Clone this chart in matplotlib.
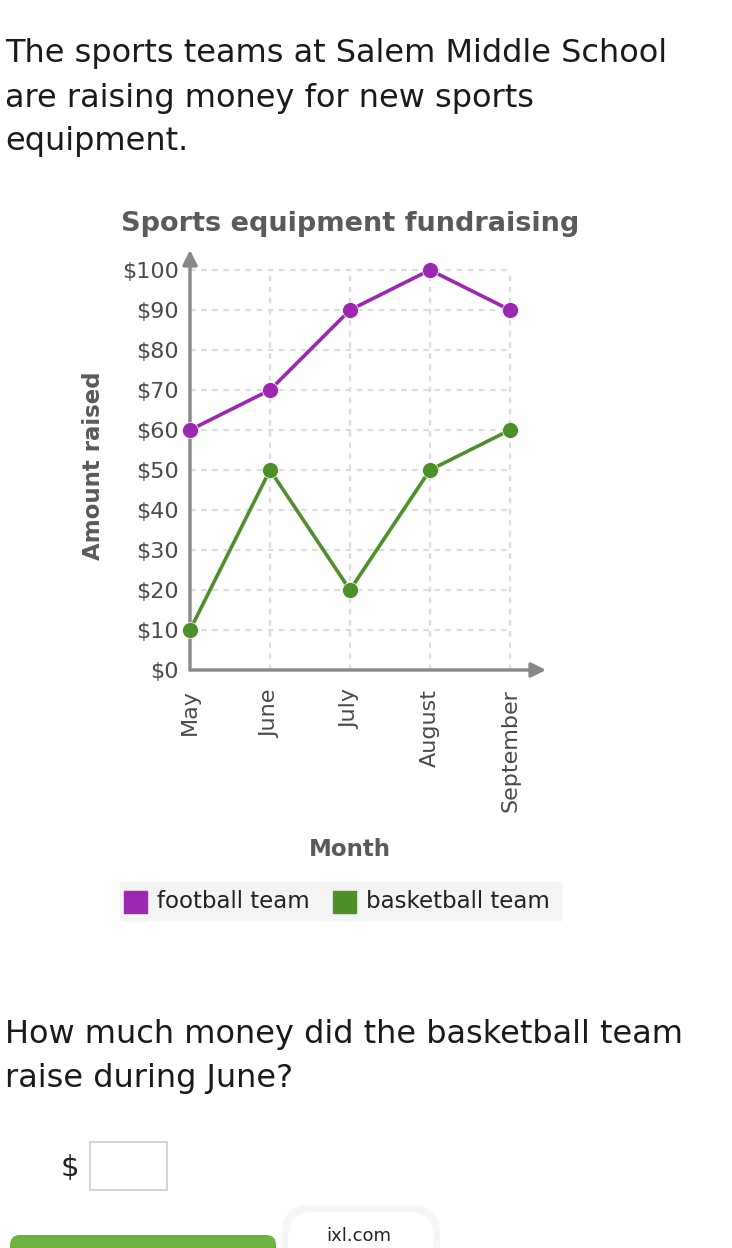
import matplotlib
matplotlib.use("Agg")
import matplotlib.pyplot as plt
from matplotlib.patches import Rectangle, FancyBboxPatch

# donnees du graphique
months = ["May", "June", "July", "August", "September"]
football = [60, 70, 90, 100, 90]
basketball = [10, 50, 20, 50, 60]
y_ticks = [0, 10, 20, 30, 40, 50, 60, 70, 80, 90, 100]
y_labels = ["$" + str(v) for v in y_ticks]
series_names = ["football team", "basketball team"]
series_colors = ["#9c27b0", "#4e8f2a"]

W, H = 732, 1248
fig = plt.figure(figsize=(W / 100, H / 100), dpi=100)
fig.patch.set_facecolor("white")

# calque en pixels pour le texte autour du graphique
bg = fig.add_axes([0, 0, 1, 1])
bg.set_xlim(0, W)
bg.set_ylim(H, 0)
bg.axis("off")

# axes du graphique
x0, x1, y0, y1 = 190, 546, 670, 250
ax = fig.add_axes([x0 / W, 1 - y0 / H, (x1 - x0) / W, (y0 - y1) / H])
ax.set_xlim(0, 4.45)
ax.set_ylim(0, 105)
for s in ax.spines.values():
    s.set_visible(False)
ax.patch.set_alpha(0)

xs = list(range(len(months)))
grid_kw = dict(color="#dddddd", lw=1.6, linestyles=(0, (2.5, 2.5)), zorder=1)
ax.hlines(y_ticks[1:], 0, xs[-1], **grid_kw)
ax.vlines(xs[1:], 0, y_ticks[-1], **grid_kw)

# fleches des axes
arrow = dict(arrowstyle="-|>", color="#888888", lw=2.4, mutation_scale=22, shrinkA=0, shrinkB=0)
ax.annotate("", xy=(0, 1), xytext=(0, 0), xycoords="axes fraction", arrowprops=arrow, zorder=2)
ax.annotate("", xy=(1, 0), xytext=(0, 0), xycoords="axes fraction", arrowprops=arrow, zorder=2)

for vals, col in zip([football, basketball], series_colors):
    ax.plot(xs, vals, color=col, lw=2.6, marker="o", ms=11.5,
            mec="#ffffff", mew=0.5, zorder=4, clip_on=False)

ax.set_yticks(y_ticks)
ax.set_yticklabels(y_labels)
ax.set_xticks(xs)
ax.set_xticklabels(months, rotation=90, va="top", ha="center")
ax.tick_params(axis="y", length=0, pad=8, labelsize=16, labelcolor="#4a4a4a")
ax.tick_params(axis="x", length=0, pad=14, labelsize=16, labelcolor="#4a4a4a")

# titres
bg.text(350, 224, "Sports equipment fundraising", fontsize=19.5, fontweight="bold",
        color="#5a5a5a", ha="center", va="center")
bg.text(350, 850, "Month", fontsize=16.5, fontweight="bold", color="#5a5a5a",
        ha="center", va="center")
bg.text(93, 466, "Amount raised", fontsize=16.5, fontweight="bold", color="#5a5a5a",
        ha="center", va="center", rotation=90)

# legende
bg.add_patch(Rectangle((120, 882), 441, 38, color="#f4f4f4", zorder=0))
lx = [124, 333]
for x, name, col in zip(lx, series_names, series_colors):
    bg.add_patch(Rectangle((x, 891), 23, 22, color=col))
    bg.text(x + 33, 902, name, fontsize=16.5, color="#222222", va="center", ha="left")

# texte de la question
body = dict(fontsize=23, color="#1a1a1a", ha="left", va="baseline")
bg.text(5, 62, "The sports teams at Salem Middle School", **body)
bg.text(5, 107, "are raising money for new sports", **body)
bg.text(5, 150, "equipment.", **body)
bg.text(5, 1043, "How much money did the basketball team", **body)
bg.text(5, 1087, "raise during June?", **body)

bg.text(70, 1168, "$", fontsize=21, color="#222222", ha="center", va="center")
bg.add_patch(Rectangle((90, 1142), 77, 48, fill=False, ec="#cccccc", lw=1.2))

# bas de page
bg.add_patch(FancyBboxPatch((10, 1235), 266, 40, boxstyle="round,pad=0,rounding_size=10",
                            fc="#6db33f", ec="none"))
bg.add_patch(FancyBboxPatch((282, 1205), 158, 70, boxstyle="round,pad=0,rounding_size=28",
                            fc="#f6f6f6", ec="none"))
bg.add_patch(FancyBboxPatch((288, 1212), 146, 70, boxstyle="round,pad=0,rounding_size=26",
                            fc="white", ec="none"))
bg.text(359, 1236, "ixl.com", fontsize=13, color="#222222", ha="center", va="center")

fig.savefig("out.png", dpi=100, facecolor="white")
